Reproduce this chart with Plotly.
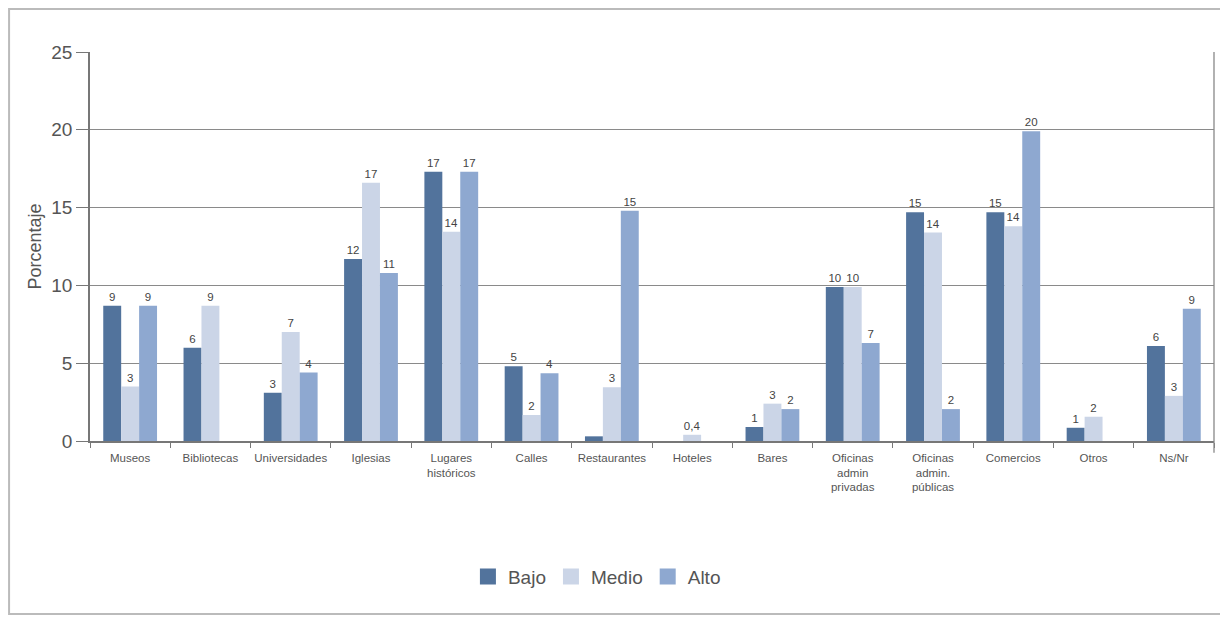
import plotly.graph_objects as go

categories = ["Museos", "Bibliotecas", "Universidades", "Iglesias", "Lugares<br>históricos",
              "Calles", "Restaurantes", "Hoteles", "Bares", "Oficinas<br>admin<br>privadas",
              "Oficinas<br>admin.<br>públicas", "Comercios", "Otros", "Ns/Nr"]

bajo = [8.7, 6.0, 3.1, 11.7, 17.3, 4.8, 0.3, 0, 0.9, 9.9, 14.7, 14.7, 0.85, 6.1]
medio = [3.5, 8.7, 7.0, 16.6, 13.45, 1.67, 3.45, 0.4, 2.4, 9.9, 13.4, 13.8, 1.56, 2.9]
alto = [8.7, 0, 4.4, 10.8, 17.3, 4.35, 14.8, 0, 2.05, 6.3, 2.05, 19.9, 0, 8.5]

bajo_txt = ["9", "6", "3", "12", "17", "5", "", "", "1", "10", "15", "15", "1", "6"]
medio_txt = ["3", "9", "7", "17", "14", "2", "3", "0,4", "3", "10", "14", "14", "2", "3"]
alto_txt = ["9", "", "4", "11", "17", "4", "15", "", "2", "7", "2", "20", "", "9"]

series = [("Bajo", bajo, bajo_txt, "#52739c"),
          ("Medio", medio, medio_txt, "#cbd5e7"),
          ("Alto", alto, alto_txt, "#8ea8d0")]

fig = go.Figure()
for name, vals, txt, col in series:
    fig.add_trace(go.Bar(
        name=name, x=categories, y=vals, text=txt, textposition="outside",
        textfont=dict(size=11.5, color="#444", family="Liberation Sans"),
        marker=dict(color=col, line=dict(width=0)), cliponaxis=False,
        showlegend=False,
    ))
# legend entries with larger square swatches
for name, vals, txt, col in series:
    fig.add_trace(go.Scatter(
        name=name, x=[None], y=[None], mode="markers",
        marker=dict(symbol="square", size=22, color=col), showlegend=True,
    ))

fig.update_layout(
    width=1220, height=611,
    margin=dict(l=82, r=14, t=44, b=178, autoexpand=False),
    paper_bgcolor="white", plot_bgcolor="white",
    barmode="group", bargap=0.33, bargroupgap=0,
    font=dict(family="Liberation Sans", color="#555"),
    showlegend=True,
    legend=dict(orientation="h", x=0.451, xanchor="center", y=-0.3, yanchor="top",
                font=dict(size=19, color="#555"), traceorder="normal",
                itemsizing="trace", itemwidth=30),
)
fig.update_xaxes(
    automargin=False,
    tickson="boundaries", ticks="outside", ticklen=5, tickcolor="#777",
    showline=True, linecolor="#777", linewidth=1.5, mirror=False,
    tickfont=dict(size=11.5, color="#555"), tickangle=0, ticklabelstandoff=5,
)
fig.update_yaxes(
    automargin=False,
    range=[0, 25], dtick=5, ticks="outside", ticklen=12, tickcolor="#777",
    showgrid=True, gridcolor="#8a8a8a", gridwidth=1.3,
    showline=True, linecolor="#777", linewidth=1.5,
    tickfont=dict(size=19, color="#555"),
    title=dict(text="Porcentaje", font=dict(size=18, color="#555"), standoff=5),
    zeroline=False,
)
# right border line of plot area
fig.add_shape(type="line", xref="paper", yref="paper", x0=1, x1=1, y0=-0.03, y1=1,
              line=dict(color="#888", width=1.3))
# outer frame
fig.add_shape(type="rect", xref="paper", yref="paper",
              x0=-0.072, x1=1.008, y0=-0.4447, y1=1.1105,
              line=dict(color="#bbbbbb", width=2))

fig.write_html("out.html")
